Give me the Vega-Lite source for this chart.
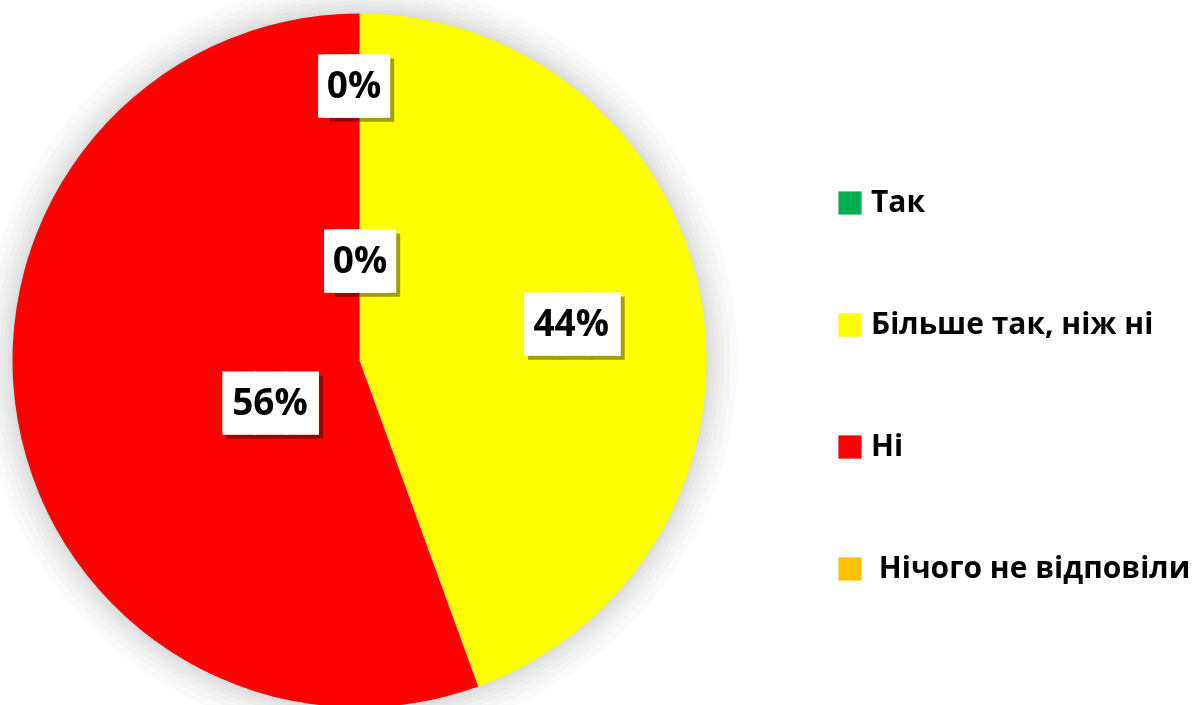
{
  "$schema": "https://vega.github.io/schema/vega-lite/v6.json",
  "width": 719,
  "height": 721,
  "autosize": {"type": "none"},
  "padding": {"left": 0, "top": 0, "right": 480, "bottom": 0},
  "background": "white",
  "config": {"view": {"stroke": null}},
  "data": {"values": [
    {"i": 1, "cat": "Так", "v": 0, "label": "0%"},
    {"i": 2, "cat": "Більше так, ніж ні", "v": 4, "label": "44%"},
    {"i": 3, "cat": "Ні", "v": 5, "label": "56%"},
    {"i": 4, "cat": "\u200b\u00a0Нічого не відповіли", "v": 0, "label": "0%"}
  ]},
  "layer": [
    {"transform": [{"filter": "datum.i === 2"}], "mark": {"type": "arc", "outerRadius": 378, "color": "#000", "opacity": 0.018}},
    {"transform": [{"filter": "datum.i === 2"}], "mark": {"type": "arc", "outerRadius": 371, "color": "#000", "opacity": 0.018}},
    {"transform": [{"filter": "datum.i === 2"}], "mark": {"type": "arc", "outerRadius": 365, "color": "#000", "opacity": 0.018}},
    {"transform": [{"filter": "datum.i === 2"}], "mark": {"type": "arc", "outerRadius": 360, "color": "#000", "opacity": 0.018}},
    {"transform": [{"filter": "datum.i === 2"}], "mark": {"type": "arc", "outerRadius": 356, "color": "#000", "opacity": 0.018}},
    {"transform": [{"filter": "datum.i === 2"}], "mark": {"type": "arc", "outerRadius": 352, "color": "#000", "opacity": 0.018}},
    {"transform": [{"filter": "datum.i === 2"}], "mark": {"type": "arc", "outerRadius": 349, "color": "#000", "opacity": 0.018}},
    {"mark": {"type": "arc", "outerRadius": 347},
     "encoding": {
       "theta": {"field": "v", "type": "quantitative", "stack": true},
       "order": {"field": "i", "type": "quantitative"},
       "color": {"field": "cat", "type": "nominal",
       "scale": {"domain": ["Так", "Більше так, ніж ні", "Ні", "\u200b\u00a0Нічого не відповіли"], "range": ["#00B050", "#FFFF00", "#FF0000", "#FFC000"]},
       "legend": {"orient": "none", "legendX": 835, "legendY": 188, "title": null, "symbolType": "square", "symbolSize": 540, "symbolStrokeWidth": 0, "symbolOpacity": 1, "labelFont": "Open Sans", "labelFontWeight": "bold", "labelFontSize": 30, "labelColor": "#000", "labelOffset": 6, "rowPadding": 92, "padding": 0, "labelLimit": 0}}}},
    {"encoding": {
       "theta": {"field": "v", "type": "quantitative", "stack": true},
       "order": {"field": "i", "type": "quantitative"},
       "radius": {"value": 273},
       "opacity": {"condition": {"test": "datum.i === 1", "value": 1}, "value": 0}},
     "layer": [
      {"mark": {"type": "text", "text": "██", "font": "DejaVu Sans Mono", "fontSize": 52, "color": "#a0a0a0", "stroke": "#a0a0a0", "strokeWidth": 1.5, "blend": "multiply", "align": "center", "baseline": "middle", "dx": 2, "dy": 4}},
      {"mark": {"type": "text", "text": "██", "font": "DejaVu Sans Mono", "fontSize": 52, "color": "white", "stroke": "white", "strokeWidth": 1.5, "align": "center", "baseline": "middle", "dx": -9, "dy": 0}},
      {"mark": {"type": "text", "text": "██", "font": "DejaVu Sans Mono", "fontSize": 52, "color": "white", "stroke": "white", "strokeWidth": 1.5, "align": "center", "baseline": "middle", "dx": -2, "dy": 0}},
      {"mark": {"type": "text", "font": "Open Sans", "fontWeight": "bold", "fontSize": 37, "color": "black", "align": "center", "baseline": "middle", "dx": -5.5, "dy": -1}, "encoding": {"text": {"field": "label"}}}
     ]},
    {"encoding": {
       "theta": {"field": "v", "type": "quantitative", "stack": true},
       "order": {"field": "i", "type": "quantitative"},
       "radius": {"value": 215},
       "opacity": {"condition": {"test": "datum.i === 2", "value": 1}, "value": 0}},
     "layer": [
      {"mark": {"type": "text", "text": "███", "font": "DejaVu Sans Mono", "fontSize": 52, "color": "#a0a0a0", "stroke": "#a0a0a0", "strokeWidth": 1.5, "blend": "multiply", "align": "center", "baseline": "middle", "dx": 5, "dy": 7}},
      {"mark": {"type": "text", "text": "███", "font": "DejaVu Sans Mono", "fontSize": 52, "color": "white", "stroke": "white", "strokeWidth": 1.5, "align": "center", "baseline": "middle", "dx": 1, "dy": 3}},
      {"mark": {"type": "text", "font": "Open Sans", "fontWeight": "bold", "fontSize": 37, "color": "black", "align": "center", "baseline": "middle", "dx": 0, "dy": 2}, "encoding": {"text": {"field": "label"}}}
     ]},
    {"encoding": {
       "theta": {"field": "v", "type": "quantitative", "stack": true},
       "order": {"field": "i", "type": "quantitative"},
       "radius": {"value": 99},
       "opacity": {"condition": {"test": "datum.i === 3", "value": 1}, "value": 0}},
     "layer": [
      {"mark": {"type": "text", "text": "███", "font": "DejaVu Sans Mono", "fontSize": 52, "color": "#a0a0a0", "stroke": "#a0a0a0", "strokeWidth": 1.5, "blend": "multiply", "align": "center", "baseline": "middle", "dx": 12.5, "dy": 31}},
      {"mark": {"type": "text", "text": "███", "font": "DejaVu Sans Mono", "fontSize": 52, "color": "white", "stroke": "white", "strokeWidth": 1.5, "align": "center", "baseline": "middle", "dx": 8.5, "dy": 27}},
      {"mark": {"type": "text", "font": "Open Sans", "fontWeight": "bold", "fontSize": 37, "color": "black", "align": "center", "baseline": "middle", "dx": 8, "dy": 26}, "encoding": {"text": {"field": "label"}}}
     ]},
    {"encoding": {
       "theta": {"field": "v", "type": "quantitative", "stack": true},
       "order": {"field": "i", "type": "quantitative"},
       "radius": {"value": 98},
       "opacity": {"condition": {"test": "datum.i === 4", "value": 1}, "value": 0}},
     "layer": [
      {"mark": {"type": "text", "text": "██", "font": "DejaVu Sans Mono", "fontSize": 52, "color": "#a0a0a0", "stroke": "#a0a0a0", "strokeWidth": 1.5, "blend": "multiply", "align": "center", "baseline": "middle", "dx": 8, "dy": 4}},
      {"mark": {"type": "text", "text": "██", "font": "DejaVu Sans Mono", "fontSize": 52, "color": "white", "stroke": "white", "strokeWidth": 1.5, "align": "center", "baseline": "middle", "dx": -3, "dy": 0}},
      {"mark": {"type": "text", "text": "██", "font": "DejaVu Sans Mono", "fontSize": 52, "color": "white", "stroke": "white", "strokeWidth": 1.5, "align": "center", "baseline": "middle", "dx": 4, "dy": 0}},
      {"mark": {"type": "text", "font": "Open Sans", "fontWeight": "bold", "fontSize": 37, "color": "black", "align": "center", "baseline": "middle", "dx": 0.5, "dy": -1}, "encoding": {"text": {"field": "label"}}}
     ]}
  ]
}
